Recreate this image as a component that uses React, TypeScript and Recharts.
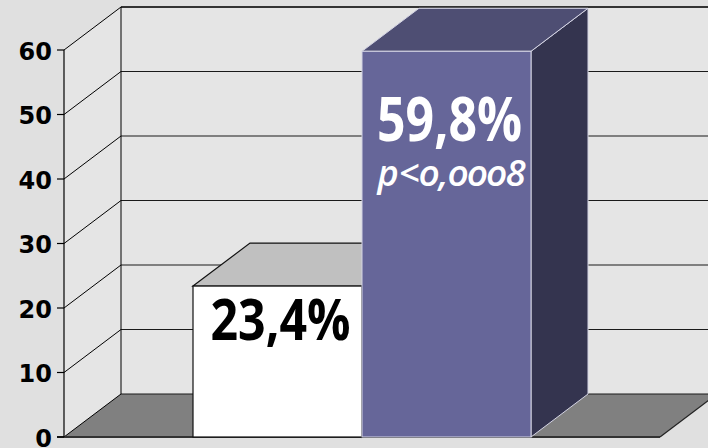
import React from 'react';
import { BarChart, Bar, XAxis, YAxis, CartesianGrid, LabelList } from 'recharts';

// ---- data ----
const categories = ['Resultado'];
const seriesKeys = ['grupoA', 'grupoB'];
const seriesValues = [23.4, 59.8];
const valueLabels = ['23,4%', '59,8%'];
const noteLabels = ['', 'p<0,0008'];
const yTicks = [0, 10, 20, 30, 40, 50, 60];

const data = categories.map((c) => {
  const row: any = { cat: c };
  seriesKeys.forEach((k, i) => {
    row[k] = seriesValues[i];
  });
  return row;
});

// ---- style ----
const DX = 57;
const DY = 43;
const BG = '#e0e0e0';
const WALL = '#e5e5e5';
const FLOOR = '#808080';

const seriesStyle = [
  {
    front: '#ffffff', top: '#c0c0c0', side: '#808080', edge: '#111111', edgeW: 1.2,
    labelColor: '#000000', labelSize: 58, labelWeight: 700, labelDy: 54, labelWidth: 140,
    noteSize: 36, noteDy: 133, noteWidth: 148,
  },
  {
    front: '#666699', top: '#4e4e73', side: '#34344f', edge: '#d4d4e4', edgeW: 1,
    labelColor: '#ffffff', labelSize: 60, labelWeight: 700, labelDy: 90, labelWidth: 145,
    noteSize: 36, noteDy: 135, noteWidth: 148,
  },
];

let plotBox = { left: 64, top: 50, width: 596, height: 386 };

const vGen = (args: any) => {
  const off = args && args.offset;
  if (off && typeof off.left === 'number') {
    plotBox = { left: off.left, top: off.top, width: off.width, height: off.height };
  }
  return [plotBox.left];
};

const H = (p: any) => {
  const { x1, x2, y1, index } = p;
  const top = typeof p.y === 'number' ? p.y : plotBox.top;
  const height = typeof p.height === 'number' ? p.height : plotBox.height;
  const bottom = top + height;
  const isBottom = Math.abs(y1 - bottom) < 1;
  const isTop = Math.abs(y1 - top) < 1;
  return (
    <g key={p.key ?? `h${index}`}>
      {index === 0 && (
        <>
          <polygon
            points={`${x1},${top} ${x1 + DX},${top - DY} ${x1 + DX},${bottom - DY} ${x1},${bottom}`}
            fill={WALL}
          />
          <rect x={x1 + DX} y={top - DY} width={x2 - x1} height={height} fill={WALL} />
        </>
      )}
      {isBottom && (
        <polygon
          points={`${x1},${y1} ${x2},${y1} ${x2 + DX},${y1 - DY} ${x1 + DX},${y1 - DY}`}
          fill={FLOOR}
        />
      )}
      <line x1={x1} y1={y1} x2={x1 + DX} y2={y1 - DY} stroke="#000" strokeWidth={1} />
      <line
        x1={x1 + DX}
        y1={y1 - DY}
        x2={x2 + DX}
        y2={y1 - DY}
        stroke={isTop ? '#333' : '#1a1a1a'}
        strokeWidth={isTop ? 2.2 : 1.2}
      />
      {isBottom && (
        <>
          <line x1={x1 - 7} y1={y1} x2={x2} y2={y1} stroke="#333" strokeWidth={2} />
          <line x1={x2} y1={y1} x2={x2 + DX} y2={y1 - DY} stroke="#222" strokeWidth={1.2} />
        </>
      )}
    </g>
  );
};

const V = (p: any) => {
  const { x1, y1, y2, index } = p;
  return (
    <line
      key={p.key ?? `v${index}`}
      x1={x1 + DX}
      y1={y1 - DY}
      x2={x1 + DX}
      y2={y2 - DY}
      stroke="#000"
      strokeWidth={1}
    />
  );
};

const YTick = (p: any) => {
  const { x, y, payload } = p;
  return (
    <text
      x={x}
      y={y}
      dy={9.5}
      textAnchor="end"
      fill="#000"
      fontSize={24}
      fontWeight={700}
      fontFamily="'DejaVu Sans', sans-serif"
    >
      {payload.value}
    </text>
  );
};

const makeBox = (s: any) => (p: any) => {
  const { x, y, width: w, height: h } = p;
  if (w == null || h == null) return <g />;
  return (
    <g>
      <polygon
        points={`${x + w},${y} ${x + w + DX},${y - DY} ${x + w + DX},${y + h - DY} ${x + w},${y + h}`}
        fill={s.side}
        stroke={s.edge}
        strokeWidth={s.edgeW}
      />
      <polygon
        points={`${x},${y} ${x + DX},${y - DY} ${x + w + DX},${y - DY} ${x + w},${y}`}
        fill={s.top}
        stroke={s.edge}
        strokeWidth={s.edgeW}
      />
      <rect x={x} y={y} width={w} height={h} fill={s.front} stroke={s.edge} strokeWidth={s.edgeW} />
    </g>
  );
};

const makeLabel = (s: any, i: number) => (p: any) => {
  const vb = p.viewBox || {};
  const x = typeof p.x === 'number' ? p.x : vb.x;
  const y = typeof p.y === 'number' ? p.y : vb.y;
  const width = typeof p.width === 'number' ? p.width : vb.width;
  const cx = x + width / 2 + 3;
  return (
    <g>
      <text
        x={cx}
        y={y + s.labelDy}
        textAnchor="middle"
        fontFamily="'Open Sans', sans-serif"
        fontWeight={s.labelWeight}
        fontSize={s.labelSize}
        fill={s.labelColor}
        textLength={s.labelWidth}
        lengthAdjust="spacingAndGlyphs"
      >
        {valueLabels[i]}
      </text>
      {noteLabels[i] ? (
        <text
          x={cx + 2}
          y={y + s.noteDy}
          textAnchor="middle"
          fontFamily="'Open Sans', sans-serif"
          fontWeight={600}
          fontStyle="italic"
          fontSize={s.noteSize}
          fill={s.labelColor}
          textLength={s.noteWidth}
          lengthAdjust="spacingAndGlyphs"
          style={{ fontVariantNumeric: 'oldstyle-nums' }}
        >
          {noteLabels[i]}
        </text>
      ) : null}
    </g>
  );
};

export default function App() {
  return (
    <div style={{ position: 'absolute', left: 0, top: 0, width: 708, height: 448, background: BG, overflow: 'hidden' }}>
      <BarChart
        width={708}
        height={448}
        data={data}
        margin={{ top: 50, right: 48, bottom: 11, left: 0 }}
        barGap={0}
        style={{ overflow: 'visible' }}
      >
        <CartesianGrid
          horizontal={H}
          vertical={V}
          verticalCoordinatesGenerator={vGen}
          syncWithTicks
        />
        <XAxis dataKey="cat" hide />
        <YAxis
          domain={[0, 60]}
          ticks={yTicks}
          interval={0}
          width={64}
          axisLine={{ stroke: '#000', strokeWidth: 1.2 }}
          tickLine={{ stroke: '#000', strokeWidth: 1.2 }}
          tickSize={7}
          tickMargin={5}
          tick={<YTick />}
        />
        {seriesKeys.map((k, i) => (
          <Bar
            key={k}
            dataKey={k}
            barSize={169}
            fill={seriesStyle[i].front}
            isAnimationActive={false}
            shape={makeBox(seriesStyle[i])}
          >
            <LabelList dataKey={k} content={makeLabel(seriesStyle[i], i)} />
          </Bar>
        ))}
      </BarChart>
    </div>
  );
}
